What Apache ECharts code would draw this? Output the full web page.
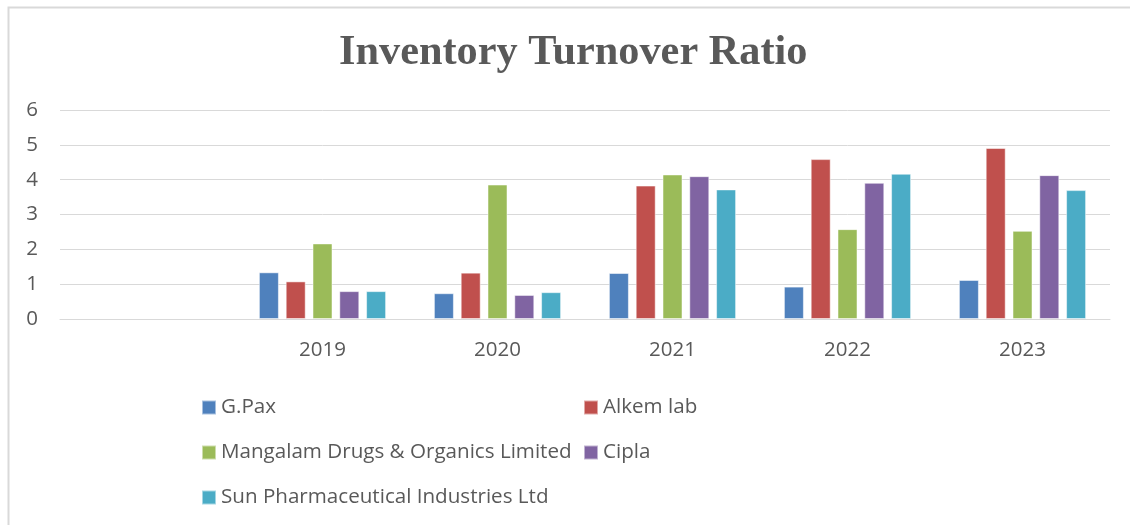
<!DOCTYPE html>
<html>
<head>
<meta charset="utf-8">
<script src="https://cdn.jsdelivr.net/npm/echarts@6/dist/echarts.min.js"></script>
<style>
  html, body { margin: 0; padding: 0; background: #fff; }
  #chart { width: 1130px; height: 525px; }
</style>
</head>
<body>
<div id="chart"></div>
<script>
// first category is blank in the source chart
const years = ['', '2019', '2020', '2021', '2022', '2023'];

const gpax     = [null, 1.34, 0.74, 1.32, 0.93, 1.12];
const alkem    = [null, 1.08, 1.33, 3.83, 4.59, 4.91];
const mangalam = [null, 2.17, 3.86, 4.15, 2.58, 2.53];
const cipla    = [null, 0.80, 0.69, 4.10, 3.91, 4.13];
const sunPharma = [null, 0.80, 0.77, 3.72, 4.17, 3.70];

const seriesNames = [
    'G.Pax',
    'Alkem lab',
    'Mangalam Drugs & Organics Limited',
    'Cipla',
    'Sun Pharmaceutical Industries Ltd',
];
const seriesData = [gpax, alkem, mangalam, cipla, sunPharma];
const colors = ['#4F81BD', '#C0504D', '#9BBB59', '#8064A2', '#4BACC6'];

const yTicks = [0, 1, 2, 3, 4, 5, 6];

const textColor = '#595959';
const sans = '"Open Sans", sans-serif';

// legend placed as a 2-column block like the Excel original
const legendSlots = [
    { left: 201, top: 397 },
    { left: 583, top: 397 },
    { left: 201, top: 442 },
    { left: 583, top: 442 },
    { left: 201, top: 487 },
];

const chart = echarts.init(document.getElementById('chart'), null, { renderer: 'canvas' });

chart.setOption({
    animation: false,
    backgroundColor: '#fff',
    color: colors,
    title: {
        text: 'Inventory Turnover Ratio',
        left: 339,
        top: 32,
        padding: 0,
        textStyle: {
            fontFamily: '"Liberation Serif", "Times New Roman", serif',
            fontWeight: 'bold',
            fontSize: 42.3,
            color: textColor,
        },
    },
    graphic: [{
        type: 'rect',
        shape: { x: 8.5, y: 7.5, width: 1300, height: 700 },
        style: { fill: 'none', stroke: '#d9d9d9', lineWidth: 2 },
        silent: true,
    }],
    legend: seriesNames.map((name, i) => ({
        data: [name],
        left: legendSlots[i].left,
        top: legendSlots[i].top,
        icon: 'rect',
        itemWidth: 14,
        itemHeight: 14,
        itemGap: 5,
        padding: 0,
        textStyle: { fontFamily: sans, fontSize: 20.6, lineHeight: 14, color: textColor, padding: [0, 0, 0, 0] },
        selectedMode: false,
    })),
    grid: { left: 60, right: 20, top: 110, bottom: 206, containLabel: false },
    xAxis: {
        type: 'category',
        data: years,
        axisLine: { show: true, lineStyle: { color: '#d9d9d9', width: 1 } },
        axisTick: { show: false },
        axisLabel: {
            fontFamily: sans,
            fontSize: 20.5,
            color: textColor,
            margin: 21,
        },
    },
    yAxis: {
        type: 'value',
        min: yTicks[0],
        max: yTicks[yTicks.length - 1],
        interval: 1,
        axisLine: { show: false },
        axisTick: { show: false },
        splitLine: { lineStyle: { color: '#d9d9d9', width: 1 } },
        axisLabel: {
            fontFamily: sans,
            fontSize: 20.5,
            color: textColor,
            margin: 22,
        },
    },
    series: seriesNames.map((name, i) => ({
        name,
        type: 'bar',
        data: seriesData[i],
        barWidth: 20,
        barGap: '34%',
        itemStyle: { borderColor: 'rgba(255,255,255,0.5)', borderWidth: 1 },
    })),
});
</script>
</body>
</html>
